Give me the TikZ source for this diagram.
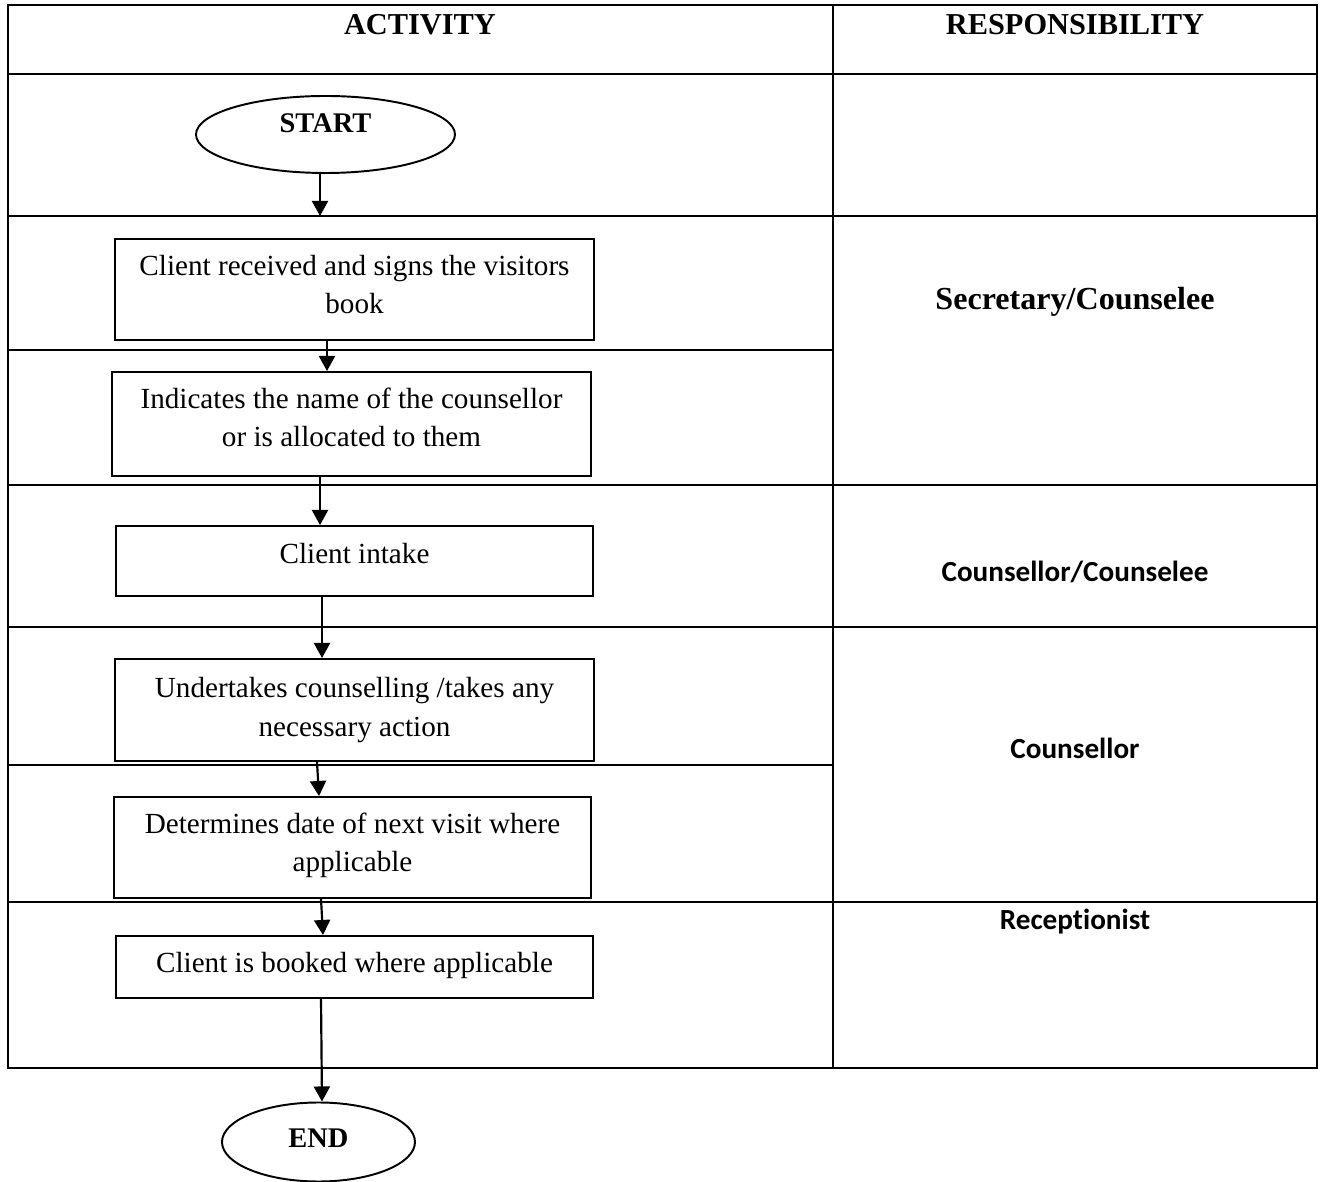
\documentclass[tikz,border=0pt]{standalone}
\usepackage{fontspec}
\setmainfont{Liberation Serif}
\newfontfamily\calibri[Ligatures=NoCommon]{Carlito}
\usetikzlibrary{arrows.meta,shapes.geometric,calc}
\newcommand{\dn}[1]{\rule[-#1]{0pt}{#1}}
\begin{document}
\begin{tikzpicture}[x=0.4115pt,y=-0.4115pt,
  tbl/.style={line width=1.1pt},
  box/.style 2 args={draw, line width=0.8pt, rectangle, inner sep=0pt, align=center,
    minimum width=#1*0.4115pt, minimum height=#2*0.4115pt,
    font=\fontsize{12}{15.8}\selectfont},
  term/.style 2 args={draw, line width=0.8pt, ellipse, inner sep=0pt,
    minimum width=#1*0.4115pt, minimum height=#2*0.4115pt,
    font=\fontsize{11.7}{14}\selectfont\bfseries},
  arr/.style={line width=0.9pt, -{Triangle[width=6.6pt,length=6.2pt]}},
  hdr/.style={anchor=base, font=\fontsize{12.5}{15}\selectfont\bfseries},
  sec/.style={anchor=base, font=\fontsize{13.2}{16}\selectfont\bfseries},
  resp/.style={anchor=base, font=\calibri\bfseries\fontsize{12}{14}\selectfont}
]
\useasboundingbox (0,0) rectangle (1322,1182);

% table
\draw[tbl] (8,5) rectangle (1317,1068);
\draw[tbl] (833,5) -- (833,1068);
\foreach \y in {74,216,485,627,902} \draw[tbl] (8,\y) -- (1317,\y);
\foreach \y in {350,765} \draw[tbl] (8,\y) -- (833,\y);

% headers
\node[hdr] (hact) at (420,35) {ACTIVITY};
\node[hdr] (hresp) at (1075,35) {RESPONSIBILITY};

% responsibilities
\node[sec] (rsec) at (1075,310) {Secretary/Counselee};
\node[resp] (rcc) at (1075,582) {Counsellor/Counselee};
\node[resp] (rcou) at (1075,759) {Counsellor};
\node[resp] (rrec) at (1075,930) {Receptionist};

% flow
\node[term={259}{77}] (start) at (325.5,134.5) {START\dn{9.1pt}};
\node[box={479}{101}] (b1) at (354.5,289.5) {Client received and signs the visitors\\book\dn{4.4pt}};
\node[box={479}{104}] (b2) at (351.5,424) {Indicates the name of the counsellor\\or is allocated to them\dn{5.6pt}};
\node[box={477}{70}] (b3) at (354.5,561) {Client intake\dn{6.5pt}};
\node[box={479}{102}] (b4) at (354.5,710) {Undertakes counselling /takes any\\necessary action};
\node[box={477}{101}] (b5) at (352.5,847.5) {Determines date of next visit where\\applicable\dn{4.4pt}};
\node[box={477}{62}] (b6) at (354.5,967) {Client is booked where applicable\dn{4.1pt}};
\node[term={193}{79}] (end) at (318.5,1142) {END\dn{3pt}};

\coordinate (a1) at (320,216);
\draw[arr] ($(start.south)+(-5.5,0)$) -- (a1);
\draw[arr] ($(b1.south)+(-27.5,0)$) -- ($(b2.north)+(-24.5,0)$);
\draw[arr] ($(b2.south)+(-31.5,0)$) -- ($(b3.north)+(-34.5,0)$);
\draw[arr] ($(b3.south)+(-32.5,0)$) -- ($(b4.north)+(-32.5,0)$);
\draw[arr] ($(b4.south)+(-37.5,0)$) -- ($(b5.north)+(-33.5,0)$);
\draw[arr] ($(b5.south)+(-31.5,0)$) -- ($(b6.north)+(-31.5,0)$);
\draw[arr] ($(b6.south)+(-33.5,0)$) -- ($(end.north)+(3.5,0)$);
\end{tikzpicture}
\end{document}
